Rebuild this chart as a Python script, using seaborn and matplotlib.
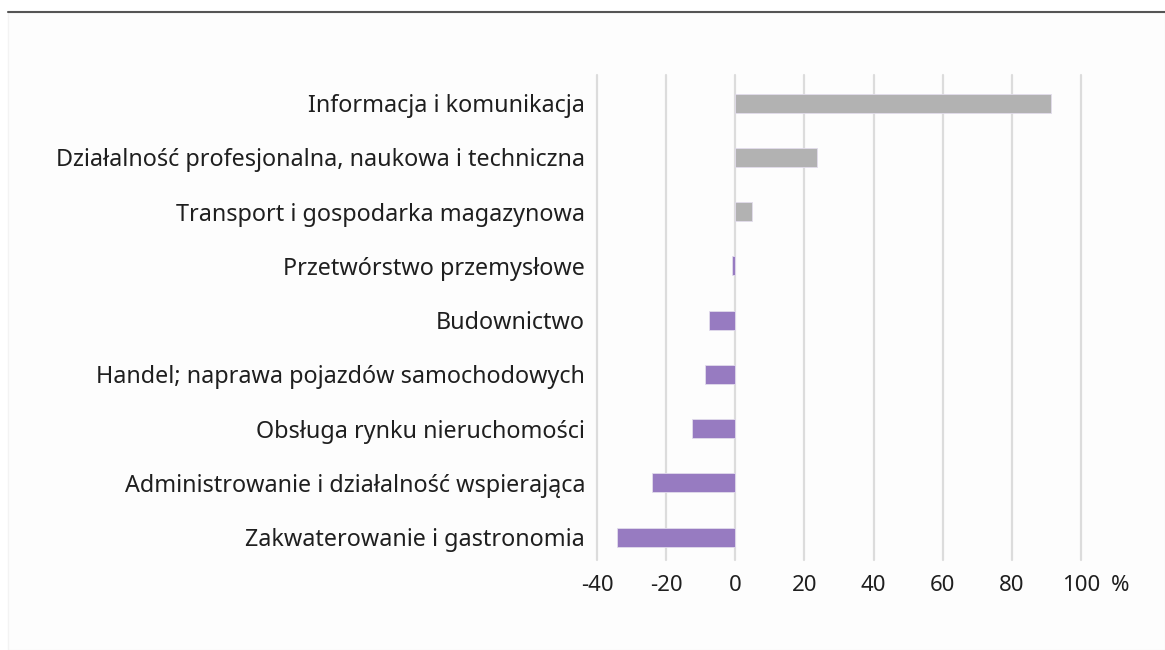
import matplotlib
matplotlib.use("Agg")
import matplotlib.pyplot as plt
import seaborn as sns
import pandas as pd
from matplotlib.lines import Line2D
from matplotlib.patches import Rectangle
from matplotlib.transforms import offset_copy

categories = [
    "Informacja i komunikacja",
    "Działalność profesjonalna, naukowa i techniczna",
    "Transport i gospodarka magazynowa",
    "Przetwórstwo przemysłowe",
    "Budownictwo",
    "Handel; naprawa pojazdów samochodowych",
    "Obsługa rynku nieruchomości",
    "Administrowanie i działalność wspierająca",
    "Zakwaterowanie i gastronomia",
]
values = [91.3, 23.7, 4.9, -1.0, -7.5, -8.7, -12.4, -24.0, -34.3]
xticks = [-40, -20, 0, 20, 40, 60, 80, 100]
xtick_labels = ["-40", "-20", "0", "20", "40", "60", "80", "100"]

df = pd.DataFrame({"cat": categories, "val": values})
df["sign"] = ["pos" if v >= 0 else "neg" for v in values]

sns.set_theme(style="white")
plt.rcParams["font.family"] = ["Noto Sans", "DejaVu Sans"]

FSY = 16.8
FSX = 16
TXT = "#1f1f1f"
XPAD = 11

fig = plt.figure(figsize=(11.65, 6.5), dpi=100)
fig.patch.set_facecolor("white")
# light panel and top rule
fig.patches.append(Rectangle((8/1165, 0), 1 - 8/1165, 1 - 12/650, transform=fig.transFigure,
                             facecolor="#fdfdfd", edgecolor="#f3f3f3", linewidth=1, zorder=-5))
fig.lines.append(Line2D([8/1165, 1], [1 - 12/650, 1 - 12/650], transform=fig.transFigure,
                        color="#555555", linewidth=1.5, zorder=-4))

ax = fig.add_axes([597/1165, 1 - 560/650, (1081 - 597)/1165, (560 - 75)/650])
ax.set_facecolor("none")
sns.barplot(data=df, x="val", y="cat", hue="sign", palette={"pos": "#b2b2b2", "neg": "#977bc1"},
            saturation=1, orient="h", width=0.35, legend=False, ax=ax,
            edgecolor="#e2dcec", linewidth=0.6, zorder=3)
ax.set_xlim(-40, 100)
ax.set_ylim(8.42, -0.52)
ax.set_xticks(xticks)
ax.set_xticklabels(xtick_labels)
ax.grid(axis="x", color="#dcdcdc", linewidth=1.6, zorder=0)
ax.grid(axis="y", visible=False)
for gl in ax.get_xgridlines():
    gl.set_clip_on(False)
ax.set_axisbelow(True)
for s in ax.spines.values():
    s.set_visible(False)
ax.tick_params(axis="both", length=0, labelcolor=TXT)
ax.tick_params(axis="y", pad=8.5, labelsize=FSY)
ax.tick_params(axis="x", pad=XPAD, labelsize=FSX)
ax.set_xlabel("")
ax.set_ylabel("")
# percent sign after the last tick
trans = offset_copy(ax.get_xaxis_transform(), fig=fig, x=21.5, y=-XPAD, units="points")
ax.text(100, 0, "%", transform=trans, ha="left", va="top", fontsize=FSX, color=TXT)

fig.savefig("out.png", dpi=100)
